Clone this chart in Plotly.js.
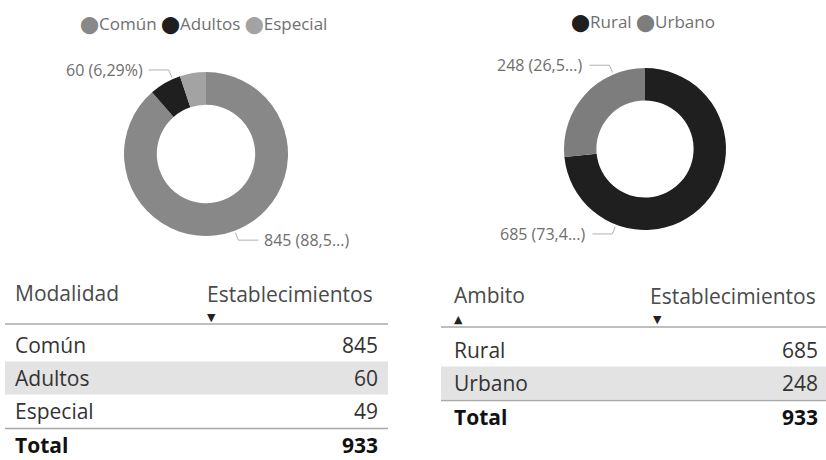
<!DOCTYPE html>
<html>
<head>
<meta charset="utf-8">
<script src="https://cdn.plot.ly/plotly-3.0.1.min.js"></script>
<style>html,body{margin:0;padding:0;background:#fff;}#chart{width:826px;height:460px;}</style>
</head>
<body>
<div id="chart"></div>
<script>
// ---- data ----
const modalidad = ['Común', 'Adultos', 'Especial'];
const establecimientosModalidad = [845, 60, 49];
const totalModalidad = 933;
const ambito = ['Rural', 'Urbano'];
const establecimientosAmbito = [685, 248];
const totalAmbito = 933;
const headerModalidad = ['Modalidad', 'Establecimientos'];
const headerAmbito = ['Ambito', 'Establecimientos'];
const totalLabel = 'Total';

// ---- style ----
const colorsModalidad = ['#888888', '#1f1f1f', '#a3a3a3'];
const colorsAmbito = ['#1f1f1f', '#7d7d7d'];
const FONT = "'Segoe UI', 'Open Sans', sans-serif";
const W = 826, H = 460;
const px = x => x / W;
const py = y => 1 - y / H;

const donuts = [
  {labels: modalidad, values: establecimientosModalidad, colors: colorsModalidad, cx: 206, cy: 154, r: 82,
   legendX: 203, legendY: 23,
   shown: [{i: 1, angle: 336, side: 'left'}, {i: 0, angle: null, side: 'right'}]},
  {labels: ambito, values: establecimientosAmbito, colors: colorsAmbito, cx: 645, cy: 149, r: 81,
   legendX: 643, legendY: 22,
   shown: [{i: 1, angle: 337, side: 'left'}, {i: 0, angle: 201, side: 'left'}]}
];

const traces = [];
const annotations = [];
const shapes = [];

function fmtPct(v, tot) {
  return (v / tot * 100).toFixed(2).replace('.', ',');
}

donuts.forEach(d => {
  traces.push({
    type: 'pie', labels: d.labels, values: d.values, hole: 0.6, sort: false,
    direction: 'clockwise', rotation: 0, textinfo: 'none', showlegend: false,
    marker: {colors: d.colors, line: {width: 0}},
    domain: {x: [px(d.cx - d.r), px(d.cx + d.r)], y: [py(d.cy + d.r), py(d.cy - d.r)]}
  });
  const leg = d.labels.map((l, k) =>
    `<span style="fill:${d.colors[k]};font-family:'DejaVu Sans'">⬤</span>${l}`).join(' ');
  annotations.push({xref: 'paper', yref: 'paper', x: px(d.legendX), y: py(d.legendY),
    xanchor: 'center', yanchor: 'middle', showarrow: false, text: leg,
    font: {family: FONT, size: 17, color: '#707070'}});
  const tot = d.values.reduce((a, b) => a + b, 0);
  const cum = [];
  let c = 0;
  d.values.forEach(v => { cum.push(c); c += v; });
  d.shown.forEach(s => {
    const v = d.values[s.i];
    const mid = (cum[s.i] + v / 2) / tot * 360;
    const ang = (s.angle === null ? mid : s.angle) * Math.PI / 180;
    const dx = Math.sin(ang), dy = -Math.cos(ang);
    const p0 = [d.cx + (d.r + 2) * dx, d.cy + (d.r + 2) * dy];
    const p1 = [d.cx + (d.r + 10) * dx, d.cy + (d.r + 10) * dy];
    const sign = s.side === 'left' ? -1 : 1;
    const p2 = [p1[0] + sign * 20, p1[1]];
    shapes.push({type: 'path', xref: 'paper', yref: 'paper',
      path: `M ${px(p0[0])},${py(p0[1])} L ${px(p1[0])},${py(p1[1])} L ${px(p2[0])},${py(p2[1])}`,
      line: {color: '#b0b0b0', width: 1}});
    const pct = fmtPct(v, tot);
    let txt = `${v} (${pct}%)`;
    if (txt.length > 10) txt = `${v} (${pct.slice(0, 4)}...)`;
    annotations.push({xref: 'paper', yref: 'paper', x: px(p2[0] + sign * 4), y: py(p1[1]),
      xanchor: s.side === 'left' ? 'right' : 'left', yanchor: 'middle', showarrow: false,
      text: txt, font: {family: FONT, size: 16, color: '#6e6e6e'}});
  });
});

// ---- tables ----
const tables = [
  {header: headerModalidad, rows: modalidad, vals: establecimientosModalidad, total: totalModalidad,
   x0: 5, x1: 388, col2: 205, valRight: 380, textLeft: 13,
   headY: [293, 294], arrowY: 317, arrows: [null, 211], lineY: 324, firstRow: 345, step: 33, shade: 1},
  {header: headerAmbito, rows: ambito, vals: establecimientosAmbito, total: totalAmbito,
   x0: 441, x1: 826, col2: 648, valRight: 820, textLeft: 452,
   headY: [295, 296], arrowY: 319, arrows: [458, 657], lineY: 327, firstRow: 350, step: 33, shade: 1}
];
const TS = 21;
tables.forEach(t => {
  annotations.push({xref: 'paper', yref: 'paper', x: px(t.textLeft), y: py(t.headY[0]), xanchor: 'left',
    yanchor: 'middle', showarrow: false, text: t.header[0], font: {family: FONT, size: TS, color: '#4a4a4a'}});
  annotations.push({xref: 'paper', yref: 'paper', x: px(t.col2), y: py(t.headY[1]), xanchor: 'left',
    yanchor: 'middle', showarrow: false, text: t.header[1], font: {family: FONT, size: TS, color: '#4a4a4a'}});
  if (t.arrows[0] !== null) {
    annotations.push({xref: 'paper', yref: 'paper', x: px(t.arrows[0]), y: py(t.arrowY), xanchor: 'center',
      yanchor: 'middle', showarrow: false, text: '▲', font: {family: 'DejaVu Sans', size: 11, color: '#222'}});
  }
  annotations.push({xref: 'paper', yref: 'paper', x: px(t.arrows[1]), y: py(t.arrowY), xanchor: 'center',
    yanchor: 'middle', showarrow: false, text: '▼', font: {family: 'DejaVu Sans', size: 11, color: '#222'}});
  shapes.push({type: 'line', xref: 'paper', yref: 'paper', x0: px(t.x0), x1: px(t.x1), y0: py(t.lineY), y1: py(t.lineY),
    line: {color: '#a8a8a8', width: 1.5}});
  t.rows.forEach((r, k) => {
    const yc = t.firstRow + k * t.step;
    if (k === t.shade) {
      shapes.push({type: 'rect', xref: 'paper', yref: 'paper', layer: 'below', x0: px(t.x0), x1: px(t.x1),
        y0: py(yc + t.step / 2), y1: py(yc - t.step / 2), fillcolor: '#e3e3e3', line: {width: 0}});
    }
    annotations.push({xref: 'paper', yref: 'paper', x: px(t.textLeft), y: py(yc), xanchor: 'left', yanchor: 'middle',
      showarrow: false, text: r, font: {family: FONT, size: TS, color: '#333'}});
    annotations.push({xref: 'paper', yref: 'paper', x: px(t.valRight), y: py(yc), xanchor: 'right', yanchor: 'middle',
      showarrow: false, text: String(t.vals[k]), font: {family: FONT, size: TS, color: '#333'}});
  });
  const yl = t.firstRow + (t.rows.length - 1) * t.step + t.step / 2 + 1;
  shapes.push({type: 'line', xref: 'paper', yref: 'paper', x0: px(t.x0), x1: px(t.x1), y0: py(yl), y1: py(yl),
    line: {color: '#a8a8a8', width: 1.5}});
  const yt = yl + 16;
  annotations.push({xref: 'paper', yref: 'paper', x: px(t.textLeft), y: py(yt), xanchor: 'left', yanchor: 'middle',
    showarrow: false, text: '<b>' + totalLabel + '</b>', font: {family: FONT, size: TS, color: '#111'}});
  annotations.push({xref: 'paper', yref: 'paper', x: px(t.valRight), y: py(yt), xanchor: 'right', yanchor: 'middle',
    showarrow: false, text: '<b>' + t.total + '</b>', font: {family: FONT, size: TS, color: '#111'}});
});

const layout = {
  width: W, height: H, margin: {l: 0, r: 0, t: 0, b: 0},
  paper_bgcolor: '#fff', plot_bgcolor: '#fff', showlegend: false,
  annotations: annotations, shapes: shapes
};
Plotly.newPlot('chart', traces, layout, {displayModeBar: false, staticPlot: true});
</script>
</body>
</html>
